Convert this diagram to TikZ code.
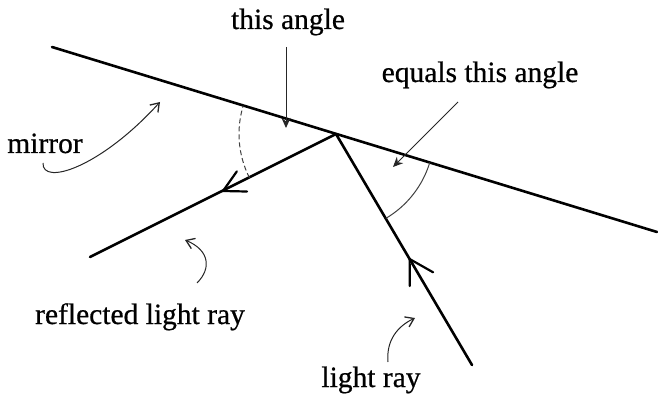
\documentclass[tikz,border=0pt]{standalone}
\usepackage{fontspec}
\setmainfont[FakeBold=0.6]{Liberation Serif}
\usetikzlibrary{arrows.meta,calc}
\begin{document}
\begin{tikzpicture}[x=1pt,y=-1pt,
  thick line/.style={line width=2.6pt,line cap=round},
  barb/.style={line width=2.2pt,line cap=round},
  pointer/.style={line width=1pt,black!85,-{Stealth[length=10pt,width=9pt]}},
  curly/.style={line width=1pt,black!85,-{Straight Barb[length=8pt,width=11pt,line width=1.3pt]}},
  anglearc/.style={line width=1pt,black!75},
  lbl/.style={font=\fontsize{29.5}{31}\selectfont,anchor=base,inner sep=0pt}]
\useasboundingbox (0,0) rectangle (658,398);
% geometry
\coordinate (M1) at (52,47);
\coordinate (M2) at (657,232);
\coordinate (P) at (336,134);
\coordinate (R) at (90,257);
\coordinate (I) at (472,365);
\coordinate (T1) at (223,191);
\coordinate (T2) at (409.6,259);
% mirror and rays
\draw[thick line] (M1) -- (M2);
\draw[thick line] (P) -- (R);
\draw[thick line] (I) -- (P);
% ray arrowheads
\draw[barb] ($(T1)!24pt!28:(P)$) -- (T1) -- ($(T1)!24pt!-28:(P)$);
\draw[barb] ($(T2)!27pt!30:(I)$) -- (T2) -- ($(T2)!27pt!-30:(I)$);
% angle arcs
\draw[anglearc,dash pattern=on 5pt off 3pt] (P) ++(153.2:97) arc[start angle=153.2,end angle=197,radius=97];
\draw[anglearc] (P) ++(17:98) arc[start angle=17,end angle=59.4,radius=98];
% labels
\node[lbl] (ta) at (288,29) {this angle};
\node[lbl] (eq) at (480,82) {equals this angle};
\node[lbl] (mi) at (45,153) {mirror};
\node[lbl] (rl) at (140,324) {reflected light ray};
\node[lbl] (lr) at (371,387) {light ray};
% pointers
\coordinate (ta1) at (286,47);
\coordinate (ta2) at (286,128);
\draw[pointer] (ta1) -- (ta2);
\coordinate (eq1) at (458,102);
\coordinate (eq2) at (393,167);
\draw[pointer] (eq1) -- (eq2);
\coordinate (mi1) at (43,163);
\coordinate (mi2) at (160,102);
\draw[curly] (mi1) .. controls (42,186) and (100,168) .. (mi2);
\coordinate (rl1) at (197,283);
\coordinate (rl2) at (185,240);
\draw[curly] (rl1) .. controls (212,268) and (209,250) .. (rl2);
\coordinate (lr1) at (388,362);
\coordinate (lr2) at (415,318);
\draw[curly] (lr1) .. controls (386,340) and (398,326) .. (lr2);
\end{tikzpicture}
\end{document}
